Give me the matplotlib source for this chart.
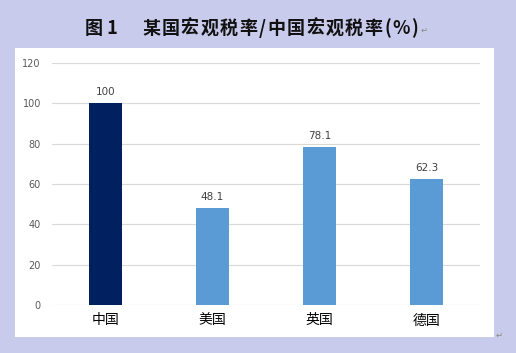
import matplotlib
matplotlib.use("Agg")
import matplotlib.pyplot as plt

plt.rcParams['font.family'] = ['Noto Sans CJK SC', 'DejaVu Sans']

categories = ['中国', '美国', '英国', '德国']
values = [100, 48.1, 78.1, 62.3]
value_labels = ['100', '48.1', '78.1', '62.3']
yticks = [0, 20, 40, 60, 80, 100, 120]
colors = ['#002060', '#5b9bd5', '#5b9bd5', '#5b9bd5']
title_num = '图 1'
title_main = '某国宏观税率/中国宏观税率(%)'

W, H = 516, 353
fig = plt.figure(figsize=(W/100, H/100), dpi=100)
fig.patch.set_facecolor('#c9cbec')

panel = fig.add_axes([15/W, 1-337/H, 479/W, 289/H], zorder=0)
panel.set_facecolor('white')
panel.set_xticks([]); panel.set_yticks([])
for s in panel.spines.values():
    s.set_visible(False)

ax = fig.add_axes([52/W, 1-305/H, 428/W, 242/H], zorder=1)
ax.set_facecolor('none')
x = range(len(categories))
ax.bar(x, values, width=0.31, color=colors, zorder=3)
for xi, v, lab in zip(x, values, value_labels):
    ax.text(xi, v + 3, lab, ha='center', va='bottom', fontsize=7.5,
            color='#404040', family=['DejaVu Sans'])

ax.set_xlim(-0.5, len(categories) - 0.5)
ax.set_ylim(0, 120)
ax.set_yticks(yticks)
ax.set_yticklabels([str(t) for t in yticks], fontsize=7, color='#595959',
                   family=['DejaVu Sans'])
ax.set_xticks(list(x))
ax.set_xticklabels(categories, fontsize=10, color='black')
ax.tick_params(axis='both', length=0)
ax.tick_params(axis='y', pad=8)
ax.tick_params(axis='x', pad=6)
ax.grid(axis='y', color='#d9d9d9', linewidth=0.8, zorder=0)
for s in ax.spines.values():
    s.set_visible(False)

# Title: number part, then main part spread to match width
fig.text(85/W, 1-28/H, title_num, ha='left', va='center', fontsize=13,
         fontweight='bold', color='#111111')
renderer = fig.canvas.get_renderer()
chars = list(title_main)
texts = []
widths = []
for c in chars:
    t = fig.text(0, 1-28/H, c, ha='left', va='center', fontsize=13,
                 fontweight='bold', color='#111111')
    widths.append(t.get_window_extent(renderer).width)
    texts.append(t)
x0, x1 = 142, 418
gap = ((x1 - x0) - sum(widths)) / (len(chars) - 1)
pos = x0
for t, w in zip(texts, widths):
    t.set_x(pos / W)
    pos += w + gap

fig.text(421/W, 1-30/H, '↵', ha='left', va='center', fontsize=6,
         color='#888888', family=['DejaVu Sans'])
fig.text(496/W, 1-335/H, '↵', ha='left', va='center', fontsize=6,
         color='#888888', family=['DejaVu Sans'])

fig.savefig('out.png', dpi=100, facecolor=fig.get_facecolor())
